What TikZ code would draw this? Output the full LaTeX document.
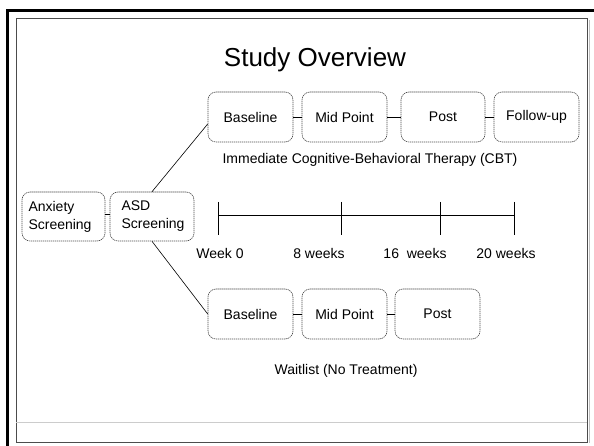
\documentclass[tikz,border=0pt]{standalone}
\usepackage{fontspec}
\setmainfont{Liberation Sans}
\begin{document}
\begin{tikzpicture}[x=1pt,y=-1pt,
  phase/.style={draw=black!70, line width=0.6pt, dash pattern=on 1.3pt off 0.7pt,
    rounded corners=8pt, minimum width=85pt, minimum height=50pt, inner sep=0pt,
    font=\fontsize{14}{18}\selectfont},
  screen/.style={draw=black!70, line width=0.6pt, dash pattern=on 1.3pt off 0.7pt,
    rounded corners=8pt, minimum height=49pt, inner xsep=6.5pt, inner ysep=0pt,
    align=left, font=\fontsize{14}{18}\selectfont},
  lbl/.style={font=\fontsize{14}{17}\selectfont, inner sep=0pt},
  link/.style={draw=black, line width=0.6pt},
  tline/.style={draw=black, line width=0.8pt}]
\useasboundingbox (0,0) rectangle (594,446);
% frames
\draw[line width=2.5pt, line join=miter] (7.3,446) -- (7.3,10.3) -- (594,10.3);
\draw[black!25, line width=1pt] (589,20) -- (589,443);
\draw[black!70, line width=1pt] (16,19) rectangle (587,442);
\draw[black!20, line width=0.8pt] (16,422) -- (587,422);
% title
\node[font=\fontsize{26}{30}\selectfont, inner sep=0pt] (title) at (315,60) {Study Overview};
% top row
\node[phase] (tb) at (250.5,117) {Baseline};
\node[phase] (tm) at (344.5,117) {Mid Point};
\node[phase, minimum width=84pt] (tp) at (443,117) {Post};
\node[phase] (tf) at (536.5,117) {Follow-up};
\node[lbl] (cbt) at (370,160) {Immediate Cognitive-Behavioral Therapy (CBT)};
% bottom row
\node[phase] (bb) at (250.5,314) {Baseline};
\node[phase] (bm) at (344.5,314) {Mid Point};
\node[phase] (bp) at (437.5,314) {Post};
\node[lbl] (wait) at (346,371) {Waitlist (No Treatment)};
% screening
\node[screen, text width=70pt] (anx) at (63.5,216.5) {Anxiety\\Screening};
\node[screen, text width=71pt] (asd) at (152,216.5) {\hspace*{5pt}ASD\\\hspace*{5pt}Screening};
% connectors
\draw[link] (tb) -- (tm);
\draw[link] (tm) -- (tp);
\draw[link] (tp) -- (tf);
\draw[link] (bb) -- (bm);
\draw[link] (bm) -- (bp);
\draw[link] ([yshift=2pt]anx.east) -- ([yshift=2pt]asd.west);
\draw[link] (asd.north) -- ([yshift=-7pt]tb.west);
\draw[link] (asd.south) -- (bb.west);
% timeline
\coordinate (w0) at (218,215);
\coordinate (w8) at (341.7,215);
\coordinate (w16) at (440,215);
\coordinate (w20) at (514,215);
\draw[tline] (w0) -- (w20);
\foreach \p in {w0,w8,w16,w20}
  \draw[tline] ([yshift=13pt]\p) -- ([yshift=-20pt]\p);
\node[lbl] (l0) at (220,253) {Week 0};
\node[lbl] (l8) at (319,253) {8 weeks};
\node[lbl] (l16) at (415,253) {16\ \ weeks};
\node[lbl] (l20) at (506,253) {20 weeks};
\end{tikzpicture}
\end{document}
